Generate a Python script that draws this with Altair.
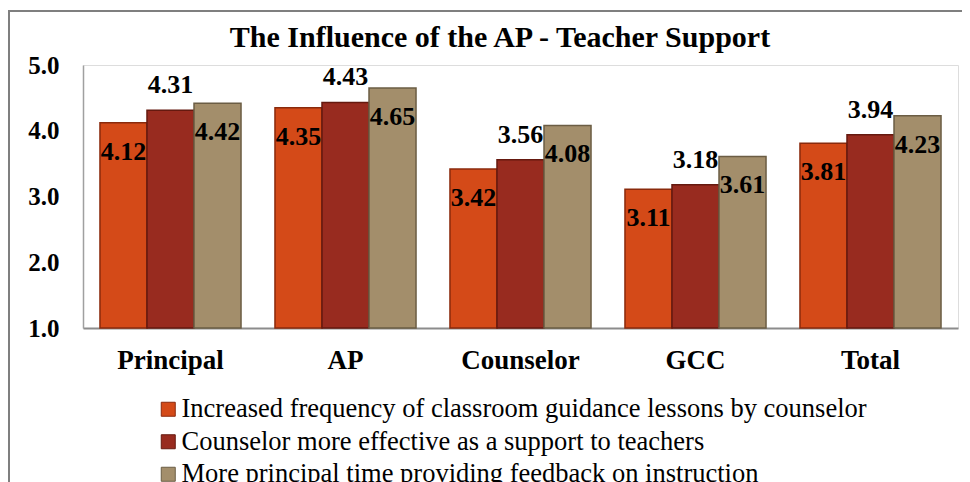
import altair as alt
import pandas as pd

categories = ["Principal", "AP", "Counselor", "GCC", "Total"]
series_names = [
    "Increased frequency of classroom guidance lessons by counselor",
    "Counselor more effective as a support to teachers",
    "More principal time providing feedback on instruction",
]
s1_values = [4.12, 4.35, 3.42, 3.11, 3.81]
s2_values = [4.31, 4.43, 3.56, 3.18, 3.94]
s3_values = [4.42, 4.65, 4.08, 3.61, 4.23]
y_ticks = [1, 2, 3, 4, 5]
title_text = "The Influence of the AP - Teacher Support"

fills = ["#D44A18", "#982B1F", "#A38E6B"]
strokes = ["#8A2A0C", "#65190F", "#6B5D44"]
FONT = "Liberation Serif"

rows = []
for name, vals in zip(series_names, [s1_values, s2_values, s3_values]):
    for c, v in zip(categories, vals):
        rows.append({"category": c, "series": name, "value": v})
df = pd.DataFrame(rows)

legend = alt.Legend(
    title=None, orient="none", legendX=72, legendY=331, direction="vertical",
    symbolType="square", symbolSize=196, symbolStrokeWidth=1,
    labelFont=FONT, labelFontSize=26.5, labelColor="black", labelLimit=1000,
    rowPadding=5.5, labelOffset=0,
)

x = alt.X("category:N", sort=categories,
          scale=alt.Scale(paddingInner=0.194, paddingOuter=0.097),
          axis=alt.Axis(title=None, labelAngle=0, labelFont=FONT, labelFontSize=27,
                        labelFontWeight="bold", labelColor="black", labelPadding=19,
                        ticks=False, domainColor="#8C8C8C", domainWidth=2))
y = alt.Y("value:Q", scale=alt.Scale(domain=[1, 5], zero=False, nice=False),
          axis=alt.Axis(title=None, values=y_ticks, format=".1f", labelFont=FONT,
                        labelFontSize=25, labelFontWeight="bold", labelColor="black",
                        ticks=False, grid=False, labelPadding=24,
                        domainColor="#A0A0A0", domainWidth=1.5))
xoff = alt.XOffset("series:N", sort=series_names,
                   scale=alt.Scale(paddingInner=0, paddingOuter=0))

base = alt.Chart(df)

bars = base.mark_bar(strokeWidth=1.5).encode(
    x=x, xOffset=xoff, y=y, y2=alt.datum(1),
    color=alt.Color("series:N", sort=series_names,
                    scale=alt.Scale(domain=series_names, range=fills), legend=legend),
    stroke=alt.Stroke("series:N", sort=series_names,
                      scale=alt.Scale(domain=series_names, range=strokes), legend=legend),
)

text_in = base.transform_filter(
    alt.datum.series != series_names[1]
).mark_text(font=FONT, fontSize=26, fontWeight="bold", color="black",
            baseline="alphabetic", dy=37).encode(
    x=x, xOffset=xoff, y=y, text=alt.Text("value:Q", format=".2f"))

text_out = base.transform_filter(
    alt.datum.series == series_names[1]
).mark_text(font=FONT, fontSize=26, fontWeight="bold", color="black",
            baseline="alphabetic", dy=-17).encode(
    x=x, xOffset=xoff, y=y, text=alt.Text("value:Q", format=".2f"))

title = alt.Chart(pd.DataFrame({"t": [title_text]})).mark_text(
    font=FONT, fontSize=30, fontWeight="bold", color="black",
    baseline="alphabetic", align="center"
).encode(x=alt.value(417), y=alt.value(-18), text="t:N")

border = alt.Chart(pd.DataFrame({"k": [0]})).mark_rect(
    fill="transparent", stroke="#7F7F7F", strokeWidth=2
).encode(x=alt.value(-74), x2=alt.value(2000), y=alt.value(-54), y2=alt.value(2000))

chart = alt.layer(bars, text_in, text_out, title, border).properties(
    width=875, height=263,
    autosize=alt.AutoSizeParams(type="none"),
    padding={"left": 75, "top": 57, "right": 4, "bottom": 160},
).configure_view(fill="#E6E6E6", stroke="transparent").configure(background="white")

chart.save("out.html", embed_options={"renderer": "svg", "actions": False})
